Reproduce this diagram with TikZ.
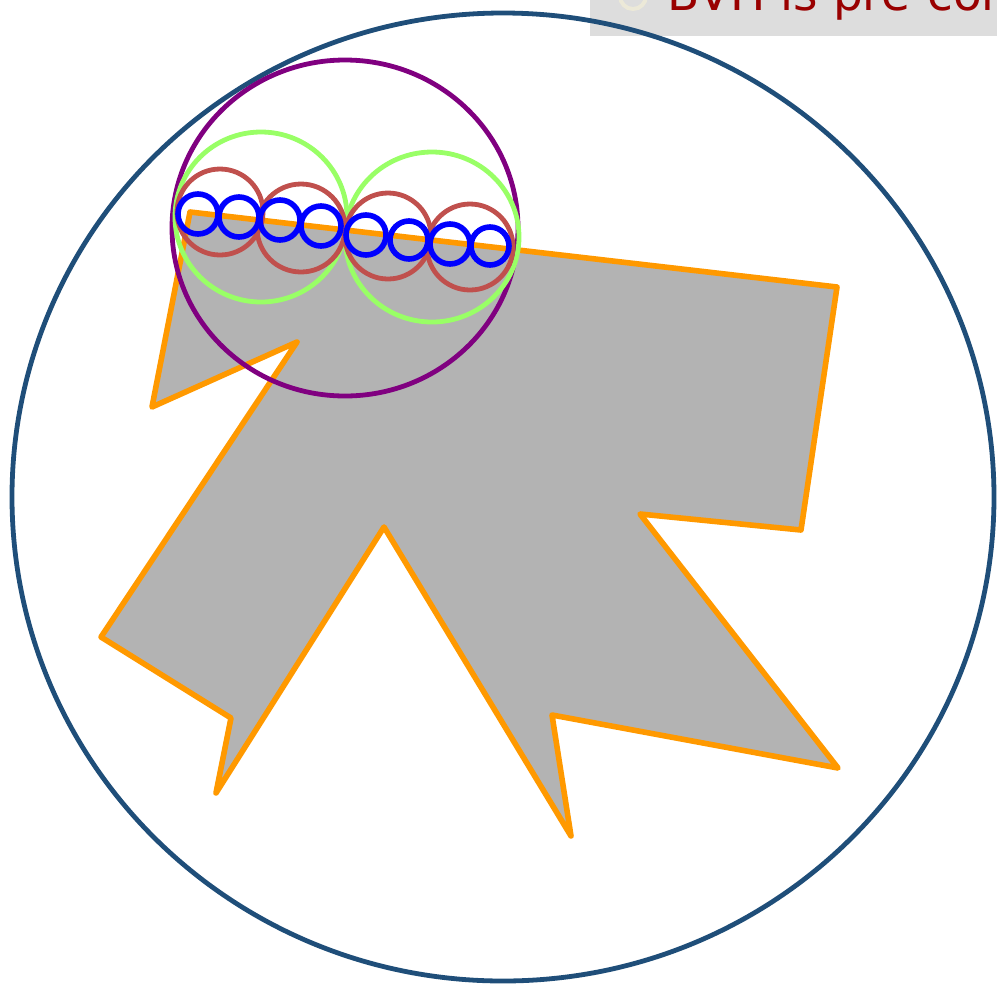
\documentclass[tikz,border=0pt]{standalone}
\usepackage{fontspec}
\newfontfamily\notefont{DejaVu Sans}
\definecolor{rootblue}{HTML}{1F4E79}
\definecolor{meshorange}{HTML}{FF9900}
\definecolor{meshgray}{HTML}{B3B3B3}
\definecolor{lvlpurple}{HTML}{800080}
\definecolor{lvlgreen}{HTML}{99FF66}
\definecolor{lvlred}{HTML}{C0504D}
\definecolor{leafblue}{HTML}{0000FF}
\definecolor{notered}{HTML}{990000}
\definecolor{notegray}{HTML}{DDDDDD}
\definecolor{iconbeige}{HTML}{ECE9D8}

\begin{document}
\begin{tikzpicture}[x=0.5pt,y=-0.5pt,
    root/.style={draw=rootblue,line width=2.4pt},
    mesh/.style={draw=meshorange,fill=meshgray,line width=2.8pt,line join=round},
    level1/.style={draw=lvlpurple,line width=2.4pt},
    level2/.style={draw=lvlgreen,line width=2.4pt},
    level3/.style={draw=lvlred,line width=2.4pt},
    leaf/.style={draw=leafblue,line width=2.8pt}]
  \useasboundingbox (0,0) rectangle (997,987);
  % note banner, cut by the page edge
  \fill[notegray] (590,-30) rectangle (1100,36);
  \draw[iconbeige,line width=2pt] (633,-4) circle [radius=13];
  \node[anchor=base west,inner sep=0,text=notered,font=\notefont\fontsize{23.5pt}{28pt}\selectfont] (note) at (667,10) {BVH is pre-computed};
  % root volume
  \draw[root] (503,497) ellipse [x radius=491,y radius=484];
  % the mesh
  \draw[mesh] (190,212) -- (837,287) -- (801,530) -- (640,514) -- (838,768)
        -- (552,715) -- (571,836) -- (384,527) -- (216,793) -- (231,718)
        -- (101,637) -- (297,342) -- (152,407) -- cycle;
  % hierarchy
  \draw[level1] (345,228) ellipse [x radius=173,y radius=168];
  \draw[level2] (261,217) ellipse [x radius=86,y radius=85];
  \draw[level2] (432,237) ellipse [x radius=87,y radius=85];
  \draw[level3] (220,212) circle [radius=43];
  \draw[level3] (301,228) circle [radius=44];
  \draw[level3] (388,236) circle [radius=43];
  \draw[level3] (470,247) circle [radius=43];
  \draw[leaf] (198,214) circle [radius=20];
  \draw[leaf] (239,217) circle [radius=20];
  \draw[leaf] (280,220) circle [radius=20];
  \draw[leaf] (321,226) circle [radius=20];
  \draw[leaf] (366,235) circle [radius=20];
  \draw[leaf] (409,240) circle [radius=19];
  \draw[leaf] (450,244) circle [radius=20];
  \draw[leaf] (490,246) circle [radius=19];
\end{tikzpicture}
\end{document}
